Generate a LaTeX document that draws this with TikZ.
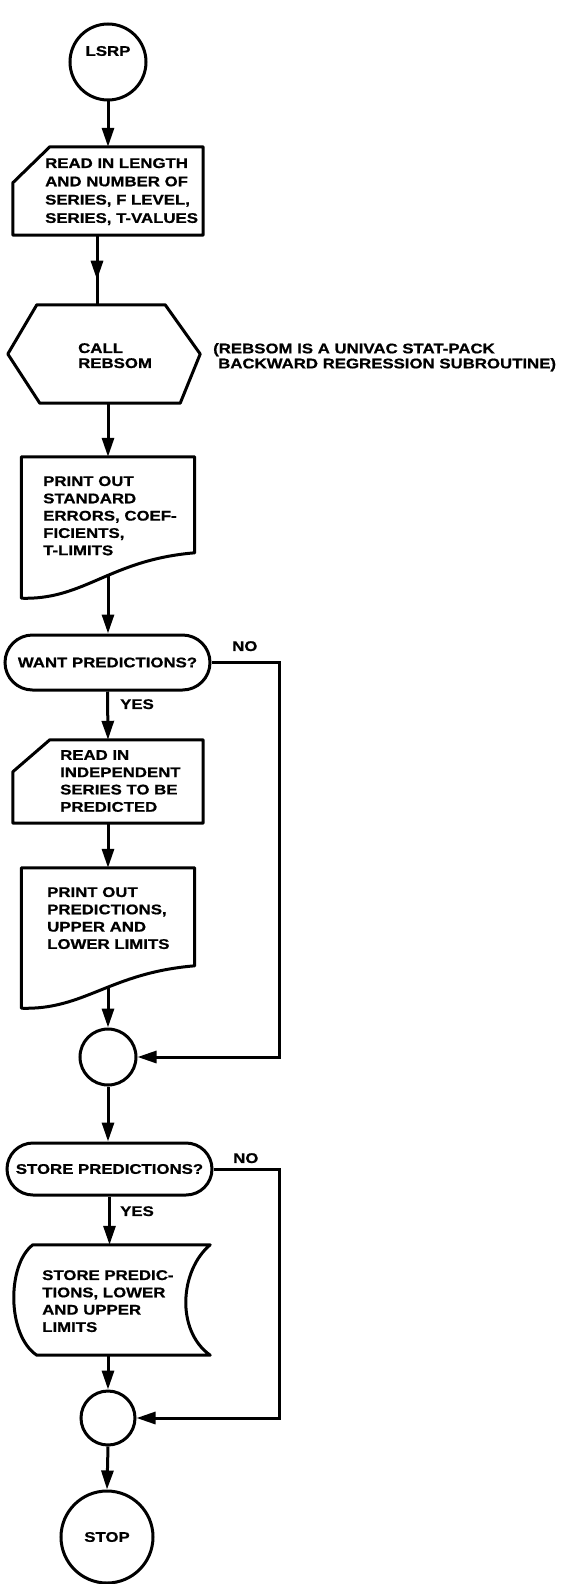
\documentclass[tikz,border=0pt]{standalone}
\usepackage{fontspec}
\newfontfamily\lab{Liberation Sans}[FakeStretch=1.2,FakeBold=0.8]
\usetikzlibrary{arrows.meta,calc,shapes.misc,decorations.markings}
\begin{document}
\begin{tikzpicture}[x=1pt,y=-1pt,
  ln/.style={line width=3pt},
  arr/.style={ln,-{Triangle[length=19pt,width=12pt]}},
  midarr/.style={postaction={decorate},decoration={markings,mark=at position 0.64 with {\arrow{Triangle[length=19pt,width=12pt]}}}},
  ghost/.style={draw=none,inner sep=0pt},
  shp/.style={ln,fill=white,line join=round},
  circ/.style={circle,draw,ln,fill=white,inner sep=0pt,font=\lab\bfseries\fontsize{14}{17}\selectfont},
  dec/.style={rounded rectangle,draw,ln,fill=white,inner sep=0pt,font=\lab\bfseries\fontsize{14}{17}\selectfont},
  txt/.style={font=\lab\bfseries\fontsize{14}{#1}\selectfont,inner sep=0pt,align=left,anchor=north west},
  txt/.default=17.3,
  lbl/.style={font=\lab\bfseries\fontsize{14}{17}\selectfont,inner sep=0pt}]
\useasboundingbox (0,0) rectangle (587,1584);
% nodes
\node[circ,minimum size=76pt] (lsrp) at (108,62) {};
\node[ghost,minimum width=190pt,minimum height=88pt] (rd1) at (108,191) {};
\node[ghost,minimum width=192pt,minimum height=98pt] (hex) at (104,354) {};
\node[ghost,minimum width=173pt,minimum height=141pt] (pr1) at (108,527.5) {};
\node[dec,minimum width=205pt,minimum height=55pt] (want) at (107.5,662.5) {WANT PREDICTIONS?};
\node[ghost,minimum width=190pt,minimum height=83pt] (rd2) at (108,781.5) {};
\node[ghost,minimum width=173pt,minimum height=140pt] (pr2) at (108,938) {};
\node[circ,minimum size=56pt] (c1) at (108,1057) {};
\node[dec,minimum width=205pt,minimum height=52pt] (store) at (109.5,1169) {STORE PREDICTIONS?};
\node[ghost,minimum width=196pt,minimum height=110pt] (st) at (112,1300) {};
\node[circ,minimum size=54pt] (c2) at (108,1418) {};
\node[circ,minimum size=92pt] (stop) at (107,1537) {STOP};
% connectors
\draw[arr] (lsrp.south) -- (rd1.north);
\draw[ln,midarr] ([xshift=-11pt]rd1.south) -- ([xshift=-7pt]hex.north);
\draw[arr] ([xshift=4pt]hex.south) -- (pr1.north);
\draw[arr] (pr1.center) -- (pr1.center |- want.north);
\draw[arr] (want.south) -- (rd2.north);
\draw[arr] (rd2.south) -- (pr2.north);
\draw[arr] (pr2.center) -- (c1.north);
\draw[arr] (c1.south) -- (c1.south |- store.north);
\draw[arr] (store.south) -- (store.south |- st.north);
\draw[arr] (c2.north |- st.center) -- (c2.north);
\draw[arr] (c2.south) -- (stop.north);
\draw[arr] (want.east) -- ++(68,0) |- (c1.east);
\draw[arr] (store.east) -- ++(66,0) |- (c2.east);
% outlines
\draw[shp] ($(rd1.north west)+(37,0)$) -- (rd1.north east) -- (rd1.south east) -- (rd1.south west) -- ($(rd1.north west)+(0,36)$) -- cycle;
\draw[shp] ($(hex.north west)+(29,0)$) -- ($(hex.north east)+(-35,0)$) -- (hex.east) -- ($(hex.south east)+(-20,0)$) -- ($(hex.south west)+(32,0)$) -- (hex.west) -- cycle;
\draw[shp] (pr1.south west) -- (pr1.north west) -- (pr1.north east) -- ($(pr1.north east)+(0,96)$) .. controls ($(pr1.north east)+(-85,103)$) and ($(pr1.south west)+(63,2)$) .. (pr1.south west) -- cycle;
\draw[shp] ($(rd2.north west)+(37,0)$) -- (rd2.north east) -- (rd2.south east) -- (rd2.south west) -- ($(rd2.north west)+(0,32)$) -- cycle;
\draw[shp] (pr2.south west) -- (pr2.north west) -- (pr2.north east) -- ($(pr2.north east)+(0,98)$) .. controls ($(pr2.north east)+(-85,105)$) and ($(pr2.south west)+(63,2)$) .. (pr2.south west) -- cycle;
\draw[shp] ($(st.north west)+(19,0)$) -- (st.north east) .. controls ($(st.north east)+(-30,25)$) and ($(st.south east)+(-35,-25)$) .. (st.south east) -- ($(st.south west)+(23,0)$) .. controls ($(st.south west)+(-7,-20)$) and ($(st.north west)+(-7,20)$) .. ($(st.north west)+(19,0)$) -- cycle;
% texts
\node[lbl] (lsrpt) at (108,51) {LSRP};
\node[txt=18.3] (t1) at (45,158) {READ IN LENGTH\\AND NUMBER OF\\SERIES, F LEVEL,\\SERIES, T-VALUES};
\node[txt=15] (t2) at (78,343) {CALL\\REBSOM};
\node[txt=15] (note) at (213,343) {(REBSOM IS A UNIVAC STAT-PACK\\\hspace*{5pt}BACKWARD REGRESSION SUBROUTINE)};
\node[txt] (t3) at (43,476) {PRINT OUT\\STANDARD\\ERRORS, COEF-\\FICIENTS,\\T-LIMITS};
\node[txt] (t4) at (60,750) {READ IN\\INDEPENDENT\\SERIES TO BE\\PREDICTED};
\node[txt] (t5) at (47,887) {PRINT OUT\\PREDICTIONS,\\UPPER AND\\LOWER LIMITS};
\node[txt] (t6) at (42,1270) {STORE PREDIC-\\TIONS, LOWER\\AND UPPER\\LIMITS};
\node[txt] (yes1) at (120,699) {YES};
\node[txt] (no1) at (232,641) {NO};
\node[txt] (yes2) at (120,1206) {YES};
\node[txt] (no2) at (233,1153) {NO};
\end{tikzpicture}
\end{document}
